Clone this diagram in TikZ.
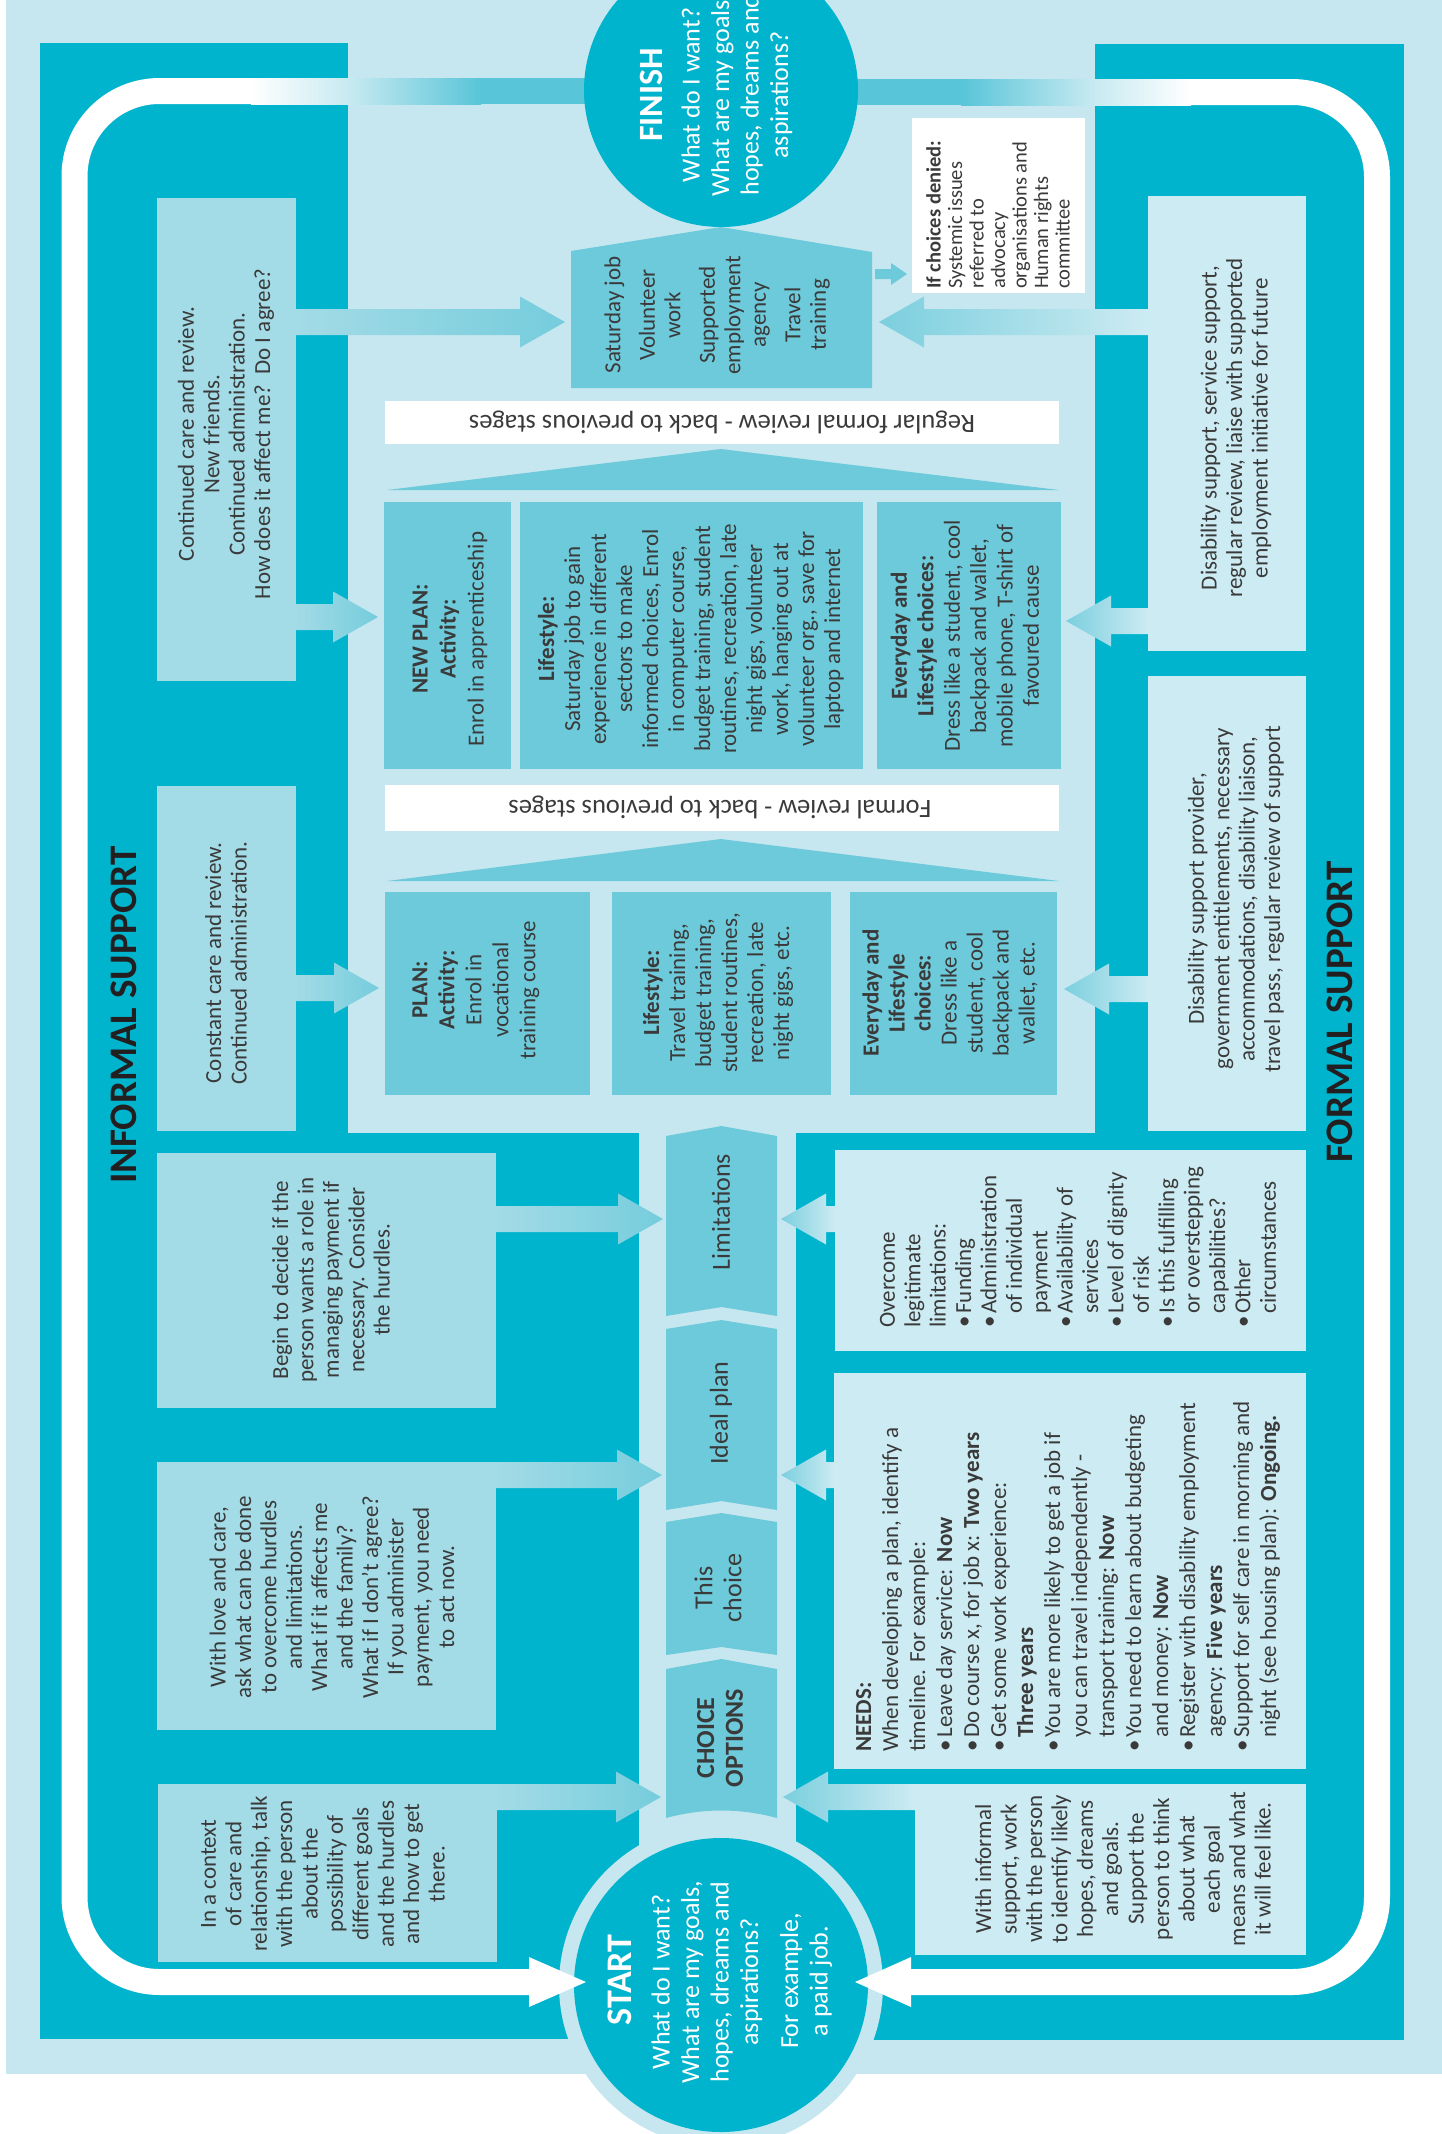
\documentclass[tikz,border=0pt]{standalone}
\usepackage{fontspec}
\setmainfont{Carlito}
\usetikzlibrary{calc,fit}
\definecolor{cTeal}{HTML}{00B4CD}
\definecolor{cMid}{HTML}{6DCADB}
\definecolor{cInf}{HTML}{A3DBE6}
\definecolor{cFor}{HTML}{CDEBF2}
\definecolor{cBg}{HTML}{C6E7EF}
\definecolor{cTxt}{HTML}{3A3A3A}
\definecolor{cTitle}{HTML}{231F20}
\definecolor{cBandA}{HTML}{C8EAF1}
\definecolor{cBandB}{HTML}{58C5D8}
\newcommand\bx[4]{\node[fit={(#2) (#3)}, inner sep=0pt, outer sep=0pt, fill=#4] (#1) {};}
\newcommand\arrR[2]{%
  \coordinate (t) at (#2);
  \coordinate (s) at (#1.east |- t);
  \shade[left color=cInf, right color=cMid!85!cInf] ($(s)+(0,-13)$) -- ($(t)+(-45,-13)$) -- ($(t)+(-45,-25.5)$) -- (t) -- ($(t)+(-45,25.5)$) -- ($(t)+(-45,13)$) -- ($(s)+(0,13)$) -- cycle;}
\newcommand\arrL[2]{%
  \coordinate (t) at (#2);
  \coordinate (s) at (#1.west |- t);
  \shade[left color=cMid!85!cFor, right color=cFor] ($(s)+(0,-13)$) -- ($(t)+(45,-13)$) -- ($(t)+(45,-25.5)$) -- (t) -- ($(t)+(45,25.5)$) -- ($(t)+(45,13)$) -- ($(s)+(0,13)$) -- cycle;}
\newcommand\bul{\makebox[0.62em][l]{•}}
\newcommand\ind{\hspace*{0.62em}}
\begin{document}
\begin{tikzpicture}[x=1pt,y=-1pt,
  body/.style={text=cTxt, font=\fontsize{23}{25.4}\selectfont, align=center, inner sep=0pt, rotate=90},
  midtxt/.style={body, font=\fontsize{23}{26}\selectfont},
  lefttxt/.style={body, align=left, anchor=west},
  chev/.style={text=cTxt, font=\fontsize{26}{29}\selectfont, align=center, inner sep=0pt, rotate=90},
  banner/.style={text=cTxt, font=\fontsize{26.5}{30}\selectfont, inner sep=0pt, rotate=180},
  title/.style={text=cTitle, font=\fontsize{39}{44}\selectfont\bfseries, inner sep=0pt, rotate=90},
  circtxt/.style={text=white, font=\fontsize{26}{29.5}\selectfont, align=center, inner sep=0pt, rotate=90},
  loop/.style={white, line width=26pt, rounded corners=85pt}]
\useasboundingbox (0,0) rectangle (1442,2134);
\clip (0,0) rectangle (1442,2134);
\fill[white] (0,0) rectangle (1442,2134);
\fill[cBg] (6,0) rectangle (1442,2074);
% teal frame
\fill[cTeal] (40,43) rectangle (348,2039);
\fill[cTeal] (1095,44) rectangle (1404,2040);
\fill[cTeal] (348,1133) rectangle (639,2039);
\fill[cTeal] (796,1133) rectangle (1095,2040);
% loop and bands
\shade[left color=white, right color=cBandA] (251,78) rectangle (348,104);
\shade[left color=cBandA, right color=cBandB] (348,78) rectangle (481,104);
\fill[cBandB] (481,78) rectangle (600,104);
\fill[cBandB] (842,79) rectangle (961,105);
\shade[left color=cBandB, right color=cBandA] (961,79) rectangle (1095,105);
\shade[left color=cBandA, right color=white] (1095,79) rectangle (1191,105);
\draw[loop] (252,91) -- (74.5,91) -- (74.5,1982) -- (531,1982);
\draw[loop] (909,1982) -- (1377,1982) -- (1377,92) -- (1190,92);
% informal boxes
\bx{boxA}{157,198}{296,681}{cInf}
\bx{boxB}{157,786}{296,1131}{cInf}
\bx{boxC}{157,1153}{496,1408}{cInf}
\bx{boxD}{157,1462}{496,1730}{cInf}
\bx{boxE}{158,1784}{497,1962}{cInf}
% formal boxes
\bx{boxF}{1148,196}{1306,651}{cFor}
\bx{boxG}{1148,676}{1306,1131}{cFor}
\bx{boxH}{835,1150}{1306,1351}{cFor}
\bx{boxI}{834,1373}{1306,1769}{cFor}
\bx{boxJ}{915,1784}{1306,1955}{cFor}
% centre boxes
\bx{pNew}{384,502}{511,769}{cMid}
\bx{lNew}{520,502}{863,769}{cMid}
\bx{eNew}{877,502}{1061,769}{cMid}
\bx{pOld}{385,892}{590,1095}{cMid}
\bx{lOld}{612,892}{831,1095}{cMid}
\bx{eOld}{850,892}{1057,1095}{cMid}
\bx{banA}{385,401}{1059,444}{white}
\bx{banB}{385,785}{1059,831}{white}
\bx{ifbox}{912,118}{1085,293}{white}
\fill[cMid] (387,490) -- (721,449) -- (1059,490) -- cycle;
\fill[cMid] (387,881) -- (721,839) -- (1059,881) -- cycle;
% pentagon
\fill[cMid] (571,388) -- (571,251) -- (721,227) -- (872,252) -- (872,388) -- cycle;
\fill[cMid] (875,269) -- (891,269) -- (891,263) -- (907,274) -- (891,285) -- (891,279) -- (875,279) -- cycle;
% chevrons
\fill[cMid] (666,1136) -- (721.5,1126) -- (777,1136) -- (777,1316) -- (721.5,1307) -- (666,1316) -- cycle;
\fill[cMid] (666,1329) -- (721.5,1320) -- (777,1329) -- (777,1510) -- (721.5,1501) -- (666,1510) -- cycle;
\fill[cMid] (666,1522) -- (721.5,1513) -- (777,1522) -- (777,1655) -- (721.5,1647) -- (666,1655) -- cycle;
\fill[cMid] (666,1669) -- (721.5,1659) -- (777,1669) -- (777,1818) .. controls (740,1808) and (703,1808) .. (666,1818) -- cycle;
% block arrows
\arrR{boxA}{565,322}
\arrR{boxA}{378,617}
\arrR{boxB}{379,988}
\arrR{boxC}{663,1219}
\arrR{boxD}{662,1475}
\arrR{boxE}{661,1797}
\arrL{boxF}{879,322}
\arrL{boxF}{1066,621}
\arrL{boxG}{1064,989}
\arrL{boxH}{781,1219}
\arrL{boxI}{781,1475}
\arrL{boxJ}{783,1797}
% circles
\node[circle, fill=cBg, minimum size=324pt, inner sep=0pt] (startring) at (721,1985) {};
\node[circle, fill=cTeal, minimum size=294pt, inner sep=0pt] (start) at (721,1985) {};
\node[circle, fill=cTeal, minimum size=274pt, inner sep=0pt] (finish) at (721,90) {};
\fill[white] (586,1982) -- (529,1957) -- (529,2007) -- cycle;
\fill[white] (855,1982) -- (911,1957) -- (911,2007) -- cycle;
% titles
\node[title] (tInf) at (124,1015) {INFORMAL SUPPORT};
\node[title] (tFor) at (1340,1012) {FORMAL SUPPORT};
% circle texts
\node[circtxt, font=\fontsize{34}{40}\selectfont\bfseries] (fT) at (651,95) {FINISH};
\node[circtxt] (fB) at (737,95) {What do I want?\\What are my goals,\\hopes, dreams and\\aspirations?};
\node[circtxt, font=\fontsize{36}{40}\selectfont\bfseries] (sT) at (620,1980) {START};
\node[circtxt] (sB) at (707,1982) {What do I want?\\What are my goals,\\hopes, dreams and\\aspirations?};
\node[circtxt] (sC) at (806,1981) {For example,\\a paid job.};
% informal texts
\node[body] (tA) at (226,434) {Continued care and review.\\New friends.\\Continued administration.\\How does it affect me?~~Do I agree?};
\node[body] (tB) at (226,963) {Constant care and review.\\Continued administration.};
\node[body] (tC) at (331,1280) {Begin to decide if the\\person wants a role in\\managing payment if\\necessary. Consider\\the hurdles.};
\node[body] (tD) at (332,1597) {With love and care,\\ask what can be done\\to overcome hurdles\\and limitations.\\What if it affects me\\and the family?\\What if I don't agree?\\If you administer\\payment, you need\\to act now.};
\node[body] (tE) at (323,1874) {In a context\\of care and\\relationship, talk\\with the person\\about the\\possibility of\\different goals\\and the hurdles\\and how to get\\there.};
% formal texts
\node[body] (tF) at (1236,428) {Disability support, service support,\\regular review, liaise with supported\\employment initiative for future};
\node[body] (tG) at (1236,899) {Disability support provider,\\government entitlements, necessary\\accommodations, disability liaison,\\travel pass, regular review of support};
\node[lefttxt] (tH) at (1078,1328) {Overcome\\legitimate\\limitations:\\\bul Funding\\\bul Administration\\\ind of individual\\\ind payment\\\bul Availability of\\\ind services\\\bul Level of dignity\\\ind of risk\\\bul Is this fulfilling\\\ind or overstepping\\\ind capabilities?\\\bul Other\\\ind circumstances};
\node[lefttxt, font=\fontsize{23}{27}\selectfont] (tI) at (1068,1752) {\textbf{NEEDS:}\\When developing a plan, identify a\\timeline. For example:\\\bul Leave day service: \textbf{Now}\\\bul Do course x, for job x: \textbf{Two years}\\\bul Get some work experience:\\\ind\textbf{Three years}\\\bul You are more likely to get a job if\\\ind you can travel independently -\\\ind transport training: \textbf{Now}\\\bul You need to learn about budgeting\\\ind and money: \textbf{Now}\\\bul Register with disability employment\\\ind agency: \textbf{Five years}\\\bul Support for self care in morning and\\\ind night (see housing plan): \textbf{Ongoing.}};
\node[body] (tJ) at (1123,1869) {With informal\\support, work\\with the person\\to identify likely\\hopes, dreams\\and goals.\\Support the\\person to think\\about what\\each goal\\means and what\\it will feel like.};
% centre texts
\node[midtxt, font=\fontsize{23}{27}\selectfont] (tPO) at (476,990) {\textbf{PLAN:}\\\textbf{Activity:}\\Enrol in\\vocational\\training course};
\node[midtxt] (tLO) at (718,993) {\textbf{Lifestyle:}\\Travel training,\\budget training,\\student routines,\\recreation, late\\night gigs, etc.};
\node[midtxt] (tEO) at (950,993) {\textbf{Everyday and}\\\textbf{Lifestyle}\\\textbf{choices:}\\Dress like a\\student, cool\\backpack and\\wallet, etc.};
\node[midtxt, font=\fontsize{23}{28}\selectfont] (tPN) at (450,639) {\textbf{NEW PLAN:}\\\textbf{Activity:}\\Enrol in apprenticeship};
\node[midtxt] (tLN) at (691,639) {\textbf{Lifestyle:}\\Saturday job to gain\\experience in different\\sectors to make\\informed choices, Enrol\\in computer course,\\budget training, student\\routines, recreation, late\\night gigs, volunteer\\work, hanging out at\\volunteer org., save for\\laptop and internet};
\node[midtxt, font=\fontsize{23}{26.4}\selectfont] (tEN) at (965,636) {\textbf{Everyday and}\\\textbf{Lifestyle choices:}\\Dress like a student, cool\\backpack and wallet,\\mobile phone, T-shirt of\\favoured cause};
\node[midtxt, font=\fontsize{23}{25.5}\selectfont] (tPent) at (717,315) {Saturday job\\[9pt]Volunteer\\work\\[9pt]Supported\\employment\\agency\\[9pt]Travel\\training};
\node[lefttxt, font=\fontsize{20.5}{21.5}\selectfont] (tIf) at (998,289) {\textbf{If choices denied:}\\Systemic issues\\referred to\\advocacy\\organisations and\\Human rights\\committee};
% banners
\node[banner] (bA) at (722,422) {Regular formal review - back to previous stages};
\node[banner] (bB) at (720,807) {Formal review - back to previous stages};
% chevron texts
\node[chev] (cL) at (721,1212) {Limitations};
\node[chev] (cI) at (721,1413) {Ideal plan};
\node[chev] (cT) at (718,1588) {This\\choice};
\node[chev, font=\fontsize{26}{28.7}\selectfont\bfseries] (cC) at (720,1738) {CHOICE\\OPTIONS};
\end{tikzpicture}
\end{document}
